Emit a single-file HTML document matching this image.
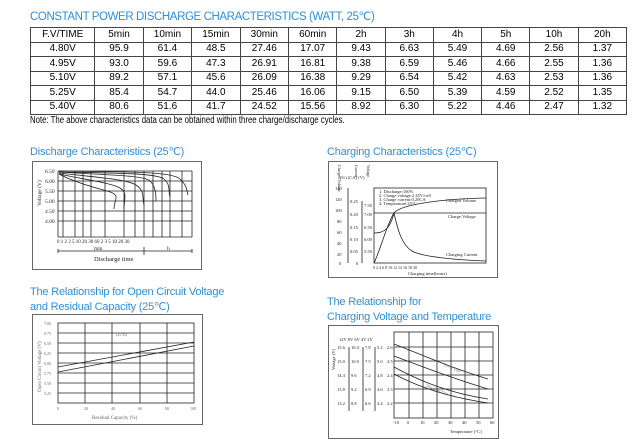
<!DOCTYPE html>
<html><head><meta charset="utf-8"><style>
body{margin:0;width:640px;height:440px;background:#fff;position:relative;font-family:"Liberation Sans",sans-serif;overflow:hidden}
.t{position:absolute;color:#2e8fd6;font-size:11px;line-height:14.5px;white-space:nowrap;letter-spacing:-0.2px}
table{position:absolute;left:30px;top:27px;border-collapse:collapse;font-size:10px;width:597px}
td{border:1px solid #444;text-align:center;height:13.5px;padding:0;width:48px;line-height:12px}
td:first-child{width:64px}
.note{position:absolute;left:30px;top:115px;font-size:10px;transform:scaleX(0.78);transform-origin:0 0;white-space:nowrap}
svg{position:absolute;font-family:"Liberation Serif",serif}
</style></head><body>
<div class="t" style="left:30px;top:10px;font-size:11.5px;letter-spacing:-0.4px">CONSTANT POWER DISCHARGE CHARACTERISTICS (WATT, 25℃)</div>
<table>
<tr><td>F.V/TIME</td><td>5min</td><td>10min</td><td>15min</td><td>30min</td><td>60min</td><td>2h</td><td>3h</td><td>4h</td><td>5h</td><td>10h</td><td>20h</td></tr>
<tr><td>4.80V</td><td>95.9</td><td>61.4</td><td>48.5</td><td>27.46</td><td>17.07</td><td>9.43</td><td>6.63</td><td>5.49</td><td>4.69</td><td>2.56</td><td>1.37</td></tr>
<tr><td>4.95V</td><td>93.0</td><td>59.6</td><td>47.3</td><td>26.91</td><td>16.81</td><td>9.38</td><td>6.59</td><td>5.46</td><td>4.66</td><td>2.55</td><td>1.36</td></tr>
<tr><td>5.10V</td><td>89.2</td><td>57.1</td><td>45.6</td><td>26.09</td><td>16.38</td><td>9.29</td><td>6.54</td><td>5.42</td><td>4.63</td><td>2.53</td><td>1.36</td></tr>
<tr><td>5.25V</td><td>85.4</td><td>54.7</td><td>44.0</td><td>25.46</td><td>16.06</td><td>9.15</td><td>6.50</td><td>5.39</td><td>4.59</td><td>2.52</td><td>1.35</td></tr>
<tr><td>5.40V</td><td>80.6</td><td>51.6</td><td>41.7</td><td>24.52</td><td>15.56</td><td>8.92</td><td>6.30</td><td>5.22</td><td>4.46</td><td>2.47</td><td>1.32</td></tr>
</table>
<div class="note">Note: The above characteristics data can be obtained within three charge/discharge cycles.</div>

<div class="t" style="left:30px;top:145px">Discharge Characteristics (25℃)</div>
<svg style="left:32px;top:161px" width="170" height="109" viewBox="0 0 170 109">
<rect x="0.5" y="0.5" width="169" height="108" fill="#fff" stroke="#666"/>
<g stroke="#222" stroke-width="0.8" fill="none">
<path d="M26 10H160M26 20H160M26 30H160M26 40H160M26 50H160M26 60H160M26 76H160"/>
<path d="M26 10V76M31 10V76M43 10V76M51 10V76M59 10V76M73 10V76M92 10V76M103 10V76M112 10V76M121 10V76M130 10V76M138 10V76M150 10V76M160 10V76"/>
<path d="M27 13C40 20,60 26,75 30S82 38,82 48"/>
<path d="M27 13C50 18,80 22,88 27S92 38,92 48"/>
<path d="M27 12C60 16,95 18,104 24S110 36,112 44"/>
<path d="M27 11C70 14,112 14,118 20S124 34,124 40"/>
<path d="M27 11C80 12,125 12,132 18S136 30,138 36"/>
<path d="M27 10C90 11,140 10,148 18S154 28,156 34"/>
<path d="M26 90H160M26 88V92M112 86V94M160 88V92"/>
</g>
<g font-size="5.5" fill="#222"><text x="13" y="12">6.50</text><text x="13" y="22">6.00</text><text x="13" y="32">5.50</text><text x="13" y="42">5.00</text><text x="13" y="52">4.50</text><text x="13" y="62">4.00</text>
<text x="25" y="82" font-size="5">0 1    2  3   5   10   20 30  60   2  3   5   10   20 30</text>
<text x="62" y="89">min</text><text x="135" y="89">h</text>
<text x="9" y="45" transform="rotate(-90 9 45)">Voltage (V)</text>
<text x="62" y="100" font-size="6.5">Discharge time</text></g>
</svg>

<div class="t" style="left:327px;top:145px">Charging Characteristics (25℃)</div>
<svg style="left:328px;top:161px" width="170" height="117" viewBox="0 0 170 117">
<rect x="0.5" y="0.5" width="169" height="116" fill="#fff" stroke="#666"/>
<g stroke="#222" fill="none" stroke-width="0.8">
<rect x="46" y="27" width="112" height="75"/>
<path d="M20 27V102M34 40V102"/>
<path d="M46 52H158"/>
<path d="M46 72C56 72,62 68,66 52C70 70,74 84,84 90S130 99,158 100"/>
<path d="M46 102C52 90,60 60,66 52S110 38,158 37"/>
</g>
<g font-size="4.5" fill="#222"><text x="51" y="32">1. Discharge:100%</text><text x="51" y="36">2. Charge voltage:2.45V/cell</text><text x="51" y="40">3. Charge current:0.20CA</text><text x="51" y="44">4. Temperature:25°C</text>
<text x="118" y="41">Charged Volume</text><text x="120" y="57">Charge Voltage</text><text x="118" y="95">Charging Current</text>
<text x="7" y="29">140</text><text x="7" y="40">120</text><text x="7" y="51">100</text><text x="9" y="62">80</text><text x="9" y="73">60</text><text x="9" y="84">40</text><text x="9" y="95">20</text><text x="11" y="104">0</text>
<text x="22" y="42">0.25</text><text x="22" y="55">0.20</text><text x="22" y="68">0.15</text><text x="22" y="80">0.10</text><text x="22" y="92">0.05</text><text x="28" y="104">0</text>
<text x="36" y="46">7.50</text><text x="36" y="55">7.00</text><text x="36" y="68">6.50</text><text x="36" y="80">6.00</text><text x="36" y="92">5.50</text>
<text x="45" y="108" font-size="4">0    2    4    6    8   10   12   14   16   18   20</text><text x="80" y="114">Charging time(hours)</text>
<text x="12" y="18">(%)   (CA)  (V)</text>
<text x="10" y="4" transform="rotate(90 10 4)" font-size="4">Charged Volume</text><text x="27" y="4" transform="rotate(90 27 4)" font-size="4">Current</text><text x="39" y="4" transform="rotate(90 39 4)" font-size="4">Voltage</text></g>
</svg>

<div class="t" style="left:30px;top:285px">The Relationship for Open Circuit Voltage<br>and Residual Capacity (25℃)</div>
<svg style="left:32px;top:314px" width="171" height="111" viewBox="0 0 171 111">
<rect x="0.5" y="0.5" width="170" height="110" fill="#fff" stroke="#666"/>
<g stroke="#222" fill="none" stroke-width="0.8">
<rect x="26" y="9" width="136" height="80"/>
<path d="M26 19H162M26 29H162M26 39H162M26 49H162M26 59H162M26 69H162M26 79H162M53 9V89M80 9V89M108 9V89M135 9V89"/>
<path d="M26 53L162 28M26 58L162 32"/>
</g>
<g font-size="4" fill="#666"><text x="12" y="11">7.00</text><text x="12" y="21">6.75</text><text x="12" y="31">6.50</text><text x="12" y="41">6.25</text><text x="12" y="51">6.00</text><text x="12" y="61">5.75</text><text x="12" y="71">5.50</text><text x="12" y="81">5.25</text>
<text x="25" y="96">0</text><text x="52" y="96">20</text><text x="79" y="96">40</text><text x="106" y="96">60</text><text x="133" y="96">80</text><text x="158" y="96">100</text>
<text x="60" y="105" font-size="5">Residual Capacity (%)</text><text x="84" y="22">(25℃)</text>
<text x="9" y="78" transform="rotate(-90 9 78)" font-size="5">Open Circuit Voltage (V)</text></g>
</svg>

<div class="t" style="left:327px;top:295px">The Relationship for<br>Charging Voltage and Temperature</div>
<svg style="left:328px;top:325px" width="171" height="114" viewBox="0 0 171 114">
<rect x="0.5" y="0.5" width="170" height="113" fill="#fff" stroke="#666"/>
<g stroke="#222" fill="none" stroke-width="0.8">
<rect x="66" y="7" width="99" height="86"/>
<path d="M66 22H165M66 36H165M66 50H165M66 64H165M66 78H165M81 7V93M95 7V93M109 7V93M123 7V93M137 7V93M151 7V93"/>
<path d="M66 19C90 28,120 42,160 54M66 31C90 40,120 52,160 64M66 42C90 55,120 68,160 74M66 49C90 62,120 72,160 78"/>
<path d="M21 22V86M35 22V86M47 22V86"/>
</g>
<g font-size="4.5" fill="#222"><text x="11" y="16">12V    8V     6V   4V  2V</text>
<text x="9" y="24">15.6</text><text x="23" y="24">10.4</text><text x="37" y="24">7.8</text><text x="49" y="24">5.2</text><text x="59" y="24">2.6</text>
<text x="9" y="38">15.0</text><text x="23" y="38">10.0</text><text x="37" y="38">7.5</text><text x="49" y="38">5.0</text><text x="59" y="38">2.5</text>
<text x="9" y="52">14.4</text><text x="23" y="52">9.6</text><text x="37" y="52">7.2</text><text x="49" y="52">4.8</text><text x="59" y="52">2.4</text>
<text x="9" y="66">13.8</text><text x="23" y="66">9.2</text><text x="37" y="66">6.9</text><text x="49" y="66">4.6</text><text x="59" y="66">2.3</text>
<text x="9" y="80">13.2</text><text x="23" y="80">8.8</text><text x="37" y="80">6.6</text><text x="49" y="80">4.4</text><text x="59" y="80">2.2</text>
<text x="65" y="99">-10</text><text x="79" y="99">0</text><text x="92" y="99">10</text><text x="106" y="99">20</text><text x="120" y="99">30</text><text x="134" y="99">40</text><text x="148" y="99">50</text><text x="162" y="99">60</text>
<text x="122" y="108">Temperature (°C)</text>
<text x="7" y="45" transform="rotate(-90 7 45)">Voltage (V)</text>
<text x="115" y="40" transform="rotate(25 115 40)" fill="#666">Cycle Use</text><text x="98" y="62" transform="rotate(22 98 62)" fill="#666">Floating Use</text></g>
</svg>
</body></html>
